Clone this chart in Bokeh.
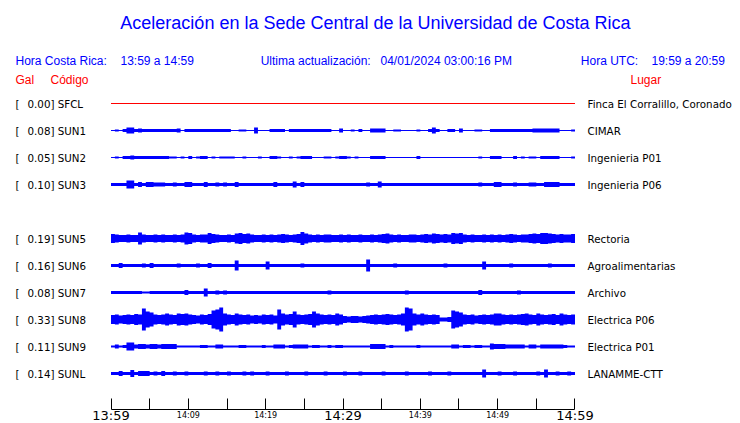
from bokeh.plotting import figure
from bokeh.models import Range1d, FixedTicker, Label
from bokeh.embed import file_html
from bokeh.resources import INLINE

# ---------------- data ----------------
STATIONS = ["SFCL", "SUN1", "SUN2", "SUN3", "SUN5", "SUN6", "SUN7", "SUN8", "SUN9", "SUNL"]
ROWS = [0, 1, 2, 3, 5, 6, 7, 8, 9, 10]          # SUN4 slot (row 4) is empty
GAL = [0.00, 0.08, 0.05, 0.10, 0.19, 0.16, 0.08, 0.33, 0.11, 0.14]
PLACES = ["Finca El Corralillo, Coronado", "CIMAR", "Ingenieria P01", "Ingenieria P06",
          "Rectoria", "Agroalimentarias", "Archivo", "Electrica P06", "Electrica P01",
          "LANAMME-CTT"]

SAMPLE_MIN = 0.5   # envelope sample every 30 s, minutes since 13:59

# envelope half-amplitudes (relative units), 120 samples each
AMP_SFCL = [0.0] * 120
AMP_SUN1 = [1, 2, 1, 3, 6, 6, 3, 4, 3, 3, 3, 3, 3, 3, 3, 3, 3, 4, 1, 3,
            3, 3, 3, 3, 3, 3, 3, 3, 3, 3, 3, 1, 1, 2, 2, 1, 1, 6, 1, 1,
            1, 3, 3, 3, 3, 1, 3, 3, 3, 3, 3, 3, 3, 3, 3, 3, 3, 1, 1, 4,
            1, 1, 2, 1, 3, 1, 1, 4, 4, 4, 4, 1, 1, 2, 2, 1, 1, 1, 1, 2,
            1, 1, 3, 6, 3, 1, 1, 3, 3, 1, 4, 1, 1, 1, 2, 2, 1, 1, 3, 3,
            3, 3, 3, 3, 3, 3, 3, 3, 3, 4, 4, 4, 4, 4, 4, 4, 1, 1, 1, 2]
AMP_SUN2 = [1, 2, 1, 3, 3, 4, 3, 3, 3, 3, 3, 3, 3, 3, 3, 2, 2, 1, 2, 1,
            3, 1, 2, 3, 3, 1, 2, 1, 2, 2, 2, 2, 1, 1, 2, 1, 1, 1, 2, 1,
            1, 3, 3, 2, 1, 1, 2, 1, 2, 3, 3, 3, 1, 1, 1, 2, 2, 1, 2, 3,
            3, 2, 1, 2, 1, 1, 1, 3, 3, 3, 3, 1, 1, 1, 1, 1, 1, 1, 1, 3,
            1, 1, 1, 1, 1, 1, 1, 1, 1, 1, 1, 1, 1, 1, 1, 2, 1, 1, 3, 3,
            3, 1, 1, 1, 3, 1, 2, 1, 2, 2, 1, 3, 3, 3, 3, 3, 1, 1, 1, 2]
AMP_SUN3 = [3, 3, 3, 3, 8, 8, 3, 5, 3, 5, 5, 4, 4, 4, 3, 3, 4, 3, 3, 5,
            5, 3, 3, 3, 5, 3, 3, 4, 3, 4, 3, 3, 5, 3, 3, 3, 3, 3, 3, 3,
            3, 3, 5, 3, 3, 3, 3, 6, 3, 5, 3, 3, 3, 3, 3, 3, 3, 3, 3, 3,
            3, 3, 3, 3, 3, 3, 4, 3, 3, 6, 3, 3, 3, 3, 3, 3, 3, 3, 3, 3,
            3, 3, 3, 3, 3, 3, 3, 3, 3, 3, 3, 3, 3, 3, 3, 4, 3, 3, 3, 5,
            5, 3, 3, 3, 4, 3, 3, 3, 4, 4, 3, 3, 5, 5, 5, 5, 3, 3, 3, 3]
AMP_SUN5 = [9, 8, 7, 7, 8, 7, 7, 12, 8, 7, 7, 8, 7, 8, 7, 7, 8, 7, 8, 12,
            11, 8, 7, 8, 8, 11, 9, 8, 7, 7, 8, 7, 10, 11, 9, 10, 8, 7, 7, 8,
            7, 8, 7, 8, 9, 8, 7, 8, 9, 13, 10, 8, 7, 8, 7, 8, 8, 7, 7, 8,
            7, 8, 7, 7, 8, 7, 7, 8, 7, 8, 9, 10, 8, 7, 8, 7, 7, 8, 8, 7,
            8, 9, 8, 10, 9, 8, 9, 8, 11, 10, 11, 8, 7, 8, 7, 7, 8, 7, 8, 7,
            8, 7, 8, 9, 8, 7, 8, 8, 9, 10, 9, 11, 11, 10, 9, 8, 9, 8, 8, 9]
AMP_SUN6 = [3, 3, 5, 3, 3, 3, 3, 3, 4, 3, 5, 3, 3, 3, 3, 3, 3, 4, 3, 3,
            3, 3, 4, 3, 3, 5, 3, 3, 3, 3, 3, 3, 10, 3, 3, 3, 3, 3, 3, 3,
            8, 3, 3, 3, 3, 3, 3, 3, 3, 4, 3, 3, 3, 3, 3, 3, 3, 3, 3, 3,
            3, 3, 3, 3, 3, 3, 12, 3, 3, 3, 3, 3, 3, 4, 3, 3, 3, 3, 3, 3,
            3, 3, 3, 3, 3, 3, 4, 3, 3, 3, 3, 3, 3, 3, 3, 3, 8, 3, 3, 3,
            3, 3, 3, 4, 3, 3, 3, 3, 3, 3, 3, 3, 3, 4, 3, 3, 3, 3, 3, 3]
AMP_SUN7 = [3, 3, 3, 3, 3, 3, 3, 3, 2, 2, 3, 3, 3, 3, 3, 3, 3, 3, 3, 5,
            3, 3, 3, 3, 8, 3, 3, 4, 3, 4, 3, 3, 3, 3, 3, 3, 3, 3, 3, 3,
            3, 3, 3, 3, 3, 3, 3, 3, 3, 3, 3, 3, 3, 3, 3, 3, 4, 3, 3, 3,
            3, 3, 3, 3, 3, 3, 3, 3, 3, 3, 3, 3, 3, 3, 3, 3, 4, 3, 3, 3,
            3, 3, 3, 3, 3, 3, 3, 3, 3, 3, 3, 3, 3, 3, 3, 5, 3, 3, 3, 3,
            3, 3, 3, 3, 3, 4, 3, 3, 3, 3, 3, 3, 3, 3, 3, 3, 3, 3, 3, 3]
AMP_SUN8 = [9, 10, 8, 9, 10, 9, 11, 10, 22, 16, 14, 10, 9, 10, 12, 10, 9, 12, 11, 12,
            10, 9, 8, 10, 9, 11, 18, 20, 24, 12, 10, 9, 12, 10, 9, 10, 8, 9, 8, 10,
            9, 10, 8, 20, 12, 10, 11, 16, 10, 9, 10, 11, 16, 12, 10, 9, 10, 9, 12, 10,
            7, 6, 7, 7, 6, 7, 8, 9, 10, 9, 10, 11, 10, 9, 10, 12, 24, 22, 12, 10,
            12, 10, 9, 10, 9, 4, 4, 5, 18, 16, 14, 10, 9, 10, 8, 9, 10, 9, 10, 12,
            12, 10, 9, 10, 9, 10, 11, 12, 10, 9, 12, 10, 9, 10, 11, 9, 12, 10, 9, 10]
AMP_SUN9 = [2, 4, 2, 3, 8, 8, 4, 5, 5, 4, 5, 5, 4, 5, 5, 5, 5, 2, 2, 2,
            2, 2, 2, 3, 3, 2, 2, 4, 4, 2, 2, 2, 2, 3, 3, 2, 2, 2, 2, 3,
            2, 2, 4, 4, 4, 2, 3, 4, 4, 4, 4, 2, 3, 3, 2, 2, 3, 2, 3, 3,
            2, 2, 2, 2, 2, 2, 2, 5, 5, 5, 5, 2, 3, 2, 2, 2, 2, 2, 2, 3,
            2, 2, 2, 2, 2, 2, 2, 2, 4, 4, 2, 3, 3, 2, 3, 3, 2, 2, 6, 5,
            5, 5, 4, 4, 4, 4, 4, 2, 4, 4, 2, 4, 4, 4, 4, 4, 4, 3, 2, 2]
AMP_SUNL = [3, 3, 5, 3, 3, 7, 3, 5, 5, 5, 3, 4, 3, 5, 3, 3, 4, 3, 3, 4,
            3, 3, 3, 3, 4, 3, 3, 4, 3, 3, 4, 3, 3, 3, 4, 3, 4, 3, 3, 3,
            4, 3, 3, 3, 3, 4, 3, 3, 3, 3, 4, 3, 3, 3, 3, 4, 3, 3, 3, 3,
            4, 3, 3, 3, 4, 3, 3, 3, 3, 3, 4, 3, 3, 3, 3, 3, 4, 3, 3, 3,
            3, 3, 4, 3, 3, 3, 3, 4, 3, 3, 3, 3, 3, 3, 3, 3, 8, 3, 3, 3,
            4, 3, 3, 3, 4, 3, 3, 3, 3, 3, 4, 3, 8, 3, 3, 4, 3, 3, 4, 3]
AMPS = [AMP_SFCL, AMP_SUN1, AMP_SUN2, AMP_SUN3, AMP_SUN5, AMP_SUN6,
        AMP_SUN7, AMP_SUN8, AMP_SUN9, AMP_SUNL]

TICK_MINUTES = [0, 5, 10, 15, 20, 25, 30, 35, 40, 45, 50, 55, 60]
SMALL_TICK_LABELS = {10: "14:09", 20: "14:19", 40: "14:39", 50: "14:49"}
BIG_TICK_LABELS = {0: "13:59", 30: "14:29", 60: "14:59"}

TITLE = "Aceleración en la Sede Central de la Universidad de Costa Rica"
HORA_CR = "13:59 a 14:59"
ULTIMA = "04/01/2024 03:00:16 PM"
HORA_UTC = "19:59 a 20:59"

# ---------------- style / layout ----------------
BLUE = "#0000ff"
RED = "#ff0000"
AMP_SCALE = 1.0 / 54.0     # rows per amplitude unit
SANS = "Liberation Sans"
DJ = "DejaVu Sans"
AXIS_ROW = 11.333          # where the time axis sits (in row units)
Y_TOP = -103.0 / 27.0
Y_BOTTOM = 320.0 / 27.0

p = figure(width=740, height=423, output_backend="svg", toolbar_location=None,
           x_range=Range1d(-14.289, 81.401), y_range=Range1d(Y_BOTTOM, Y_TOP),
           min_border=0, min_border_left=0, min_border_right=0,
           min_border_top=0, min_border_bottom=0)
p.outline_line_color = None
p.xgrid.visible = False
p.ygrid.visible = False
p.yaxis.visible = False
p.background_fill_color = "white"
p.border_fill_color = "white"

ax = p.xaxis[0]
ax.fixed_location = AXIS_ROW
ax.bounds = (TICK_MINUTES[0], TICK_MINUTES[-1])
ax.ticker = FixedTicker(ticks=TICK_MINUTES)
ax.major_label_overrides = {t: SMALL_TICK_LABELS.get(t, "") for t in TICK_MINUTES}
ax.major_tick_in = 11
ax.major_tick_out = 0
ax.minor_tick_in = 0
ax.minor_tick_out = 0
ax.major_label_standoff = 2
ax.major_label_text_font = DJ
ax.major_label_text_font_size = "8px"
ax.major_label_text_color = "black"
ax.axis_line_color = "black"
ax.major_tick_line_color = "black"

# traces
for row, amp in zip(ROWS, AMPS):
    color = RED if max(amp) == 0 else BLUE
    p.line([0, len(amp) * SAMPLE_MIN], [row, row], line_color=color, line_width=1)
    if max(amp) == 0:
        continue
    xs, y1, y2 = [], [], []
    for i, a in enumerate(amp):
        x0 = i * SAMPLE_MIN
        h = a * AMP_SCALE
        xs += [x0, x0 + SAMPLE_MIN]
        y1 += [row - h, row - h]
        y2 += [row + h, row + h]
    p.varea(x=xs, y1=y1, y2=y2, fill_color=BLUE)

def lab(x, y, text, color="black", size="10.3px", font=DJ, align="left", baseline="middle"):
    p.add_layout(Label(x=x, y=y, text=text, text_color=color, text_font_size=size,
                       text_font=font, text_align=align, text_baseline=baseline))

# station labels
for row, code, g, place in zip(ROWS, STATIONS, GAL, PLACES):
    lab(-12.349, row, "[")
    lab(-10.797, row, f"{g:.2f}] {code}")
    lab(61.616, row, place)

# big time labels
for t, s in BIG_TICK_LABELS.items():
    lab(t, Y_BOTTOM - 0.005, s, size="13px", align="center", baseline="bottom")

# header texts
lab(34.2, -2.98, TITLE, color=BLUE, size="18px", font=SANS, align="center")
lab(-12.349, -1.56, "Hora Costa Rica:", color=BLUE, size="12px", font=SANS)
lab(1.228, -1.56, HORA_CR, color=BLUE, size="12px", font=SANS)
lab(19.35, -1.56, "Ultima actualización:", color=BLUE, size="12px", font=SANS)
lab(34.849, -1.56, ULTIMA, color=BLUE, size="12px", font=SANS)
lab(60.75, -1.56, "Hora UTC:", color=BLUE, size="12px", font=SANS)
lab(69.892, -1.56, HORA_UTC, color=BLUE, size="12px", font=SANS)
lab(-12.349, -0.86, "Gal", color=RED, size="12px", font=SANS)
lab(-7.823, -0.86, "Código", color=RED, size="12px", font=SANS)
lab(67.177, -0.86, "Lugar", color=RED, size="12px", font=SANS)

open("out.html", "w").write(file_html(p, INLINE))
